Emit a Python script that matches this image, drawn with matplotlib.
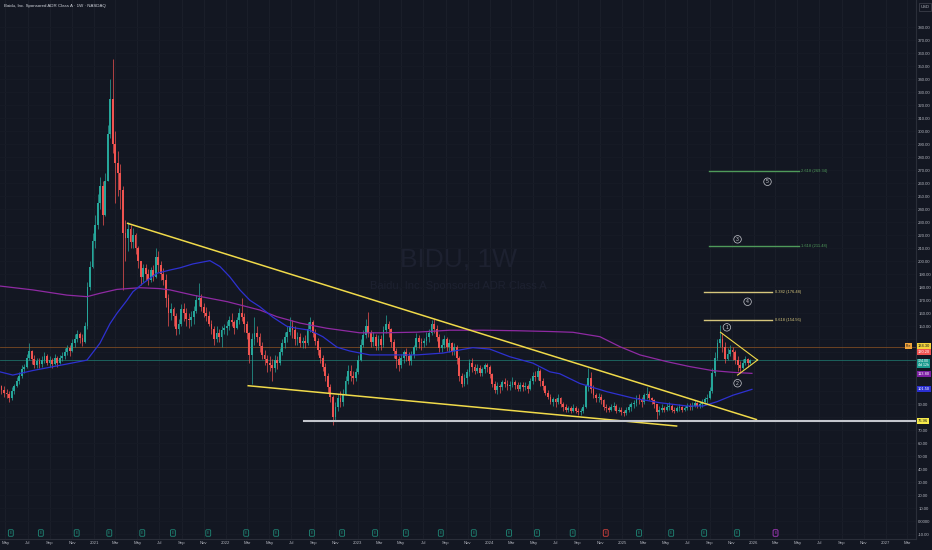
import numpy as np
import pandas as pd
import matplotlib
matplotlib.use("Agg")
import matplotlib.pyplot as plt
import matplotlib.dates as mdates
from matplotlib.transforms import blended_transform_factory
from datetime import datetime

# ------------------------------------------------------------------ data
title = "Baidu, Inc. Sponsored ADR Class A \u00b7 1W \u00b7 NASDAQ"
watermark1 = "BIDU, 1W"
watermark2 = "Baidu, Inc. Sponsored ADR Class A"

start_week = "2020-04-13"
first_open = 103.0

close_2020 = [104, 101, 99, 98, 95, 100, 104, 108, 112, 117, 119, 126, 131, 125, 120, 123,
              121, 124, 127, 122, 124, 121, 126, 122, 126, 127, 130, 133, 131,
              137, 140, 144, 141, 138, 150, 180, 196, 216]
high_2020 = [107, 105, 104, 102, 100, 103, 106, 111, 115, 120, 121, 129, 137, 132, 128, 126,
             126, 127, 130, 129, 127, 126, 129, 127, 128, 130, 133, 136, 136,
             140, 144, 147, 146, 144, 153, 184, 200, 222]
low_2020 = [100, 98, 96, 95, 92, 93, 98, 103, 106, 110, 114, 118, 124, 121, 118, 118,
            118, 119, 122, 120, 119, 118, 120, 119, 121, 123, 125, 128, 127,
            130, 134, 138, 137, 135, 137, 148, 178, 195]

close_2021 = [228, 245, 258, 236, 262, 298, 325, 290, 276, 268, 255, 222, 218,
              225, 215, 220, 210, 200, 188, 195, 190, 186, 193, 188, 203, 197,
              190, 186, 172, 160, 163, 158, 148, 152, 163, 160, 156, 155, 157,
              162, 170, 172, 165, 160, 158, 152, 148, 140, 145, 142, 147, 149]
high_2021 = [236, 252, 265, 262, 268, 305, 340, 356, 300, 285, 275, 258, 232,
             230, 228, 226, 222, 212, 200, 198, 198, 194, 196, 197, 210, 208,
             200, 195, 190, 175, 168, 165, 160, 156, 167, 168, 164, 160, 162,
             166, 174, 183, 175, 168, 165, 162, 155, 150, 150, 148, 150, 152]
low_2021 = [210, 225, 240, 228, 235, 262, 295, 283, 245, 250, 240, 178, 200,
            208, 210, 210, 206, 195, 182, 184, 186, 182, 184, 185, 187, 192,
            186, 182, 165, 150, 155, 150, 143, 144, 150, 154, 150, 149, 150,
            152, 160, 166, 162, 157, 154, 150, 144, 136, 138, 138, 134, 144]

close_2022 = [150, 155, 153, 149, 155, 160, 157, 152, 145, 128, 140, 145, 142,
              135, 128, 125, 122, 120, 118, 124, 122, 130, 137, 142, 146, 150,
              147, 140, 142, 137, 139, 137, 148, 153, 145, 139, 132, 126, 119,
              112, 103, 96, 80, 88, 95, 92, 98, 108, 116, 112, 110, 115]
high_2022 = [154, 158, 160, 155, 157, 164, 172, 160, 154, 146, 145, 157, 150,
             145, 138, 132, 128, 127, 125, 128, 127, 133, 140, 146, 150, 157,
             155, 150, 146, 145, 142, 143, 153, 157, 155, 148, 141, 134, 128,
             122, 114, 106, 97, 92, 98, 100, 102, 112, 120, 120, 116, 118]
low_2022 = [143, 147, 150, 144, 148, 152, 154, 146, 140, 122, 106, 136, 138,
            130, 125, 120, 115, 116, 108, 115, 117, 120, 128, 133, 138, 143,
            141, 136, 136, 134, 133, 133, 136, 146, 142, 136, 128, 122, 116,
            108, 99, 92, 74, 78, 85, 88, 89, 97, 106, 108, 106, 108]

close_2023 = [124, 136, 143, 150, 145, 138, 142, 135, 140, 136, 147, 152, 148,
              138, 131, 125, 120, 126, 130, 127, 123, 128, 134, 141, 138, 137,
              139, 142, 145, 152, 148, 142, 133, 136, 140, 134, 137, 131, 134,
              126, 112, 106, 110, 115, 122, 119, 116, 118, 114, 117, 120, 119]
high_2023 = [128, 140, 147, 156, 161, 147, 146, 144, 143, 143, 150, 159, 154,
             149, 140, 133, 127, 129, 132, 133, 130, 131, 136, 145, 143, 141,
             141, 146, 148, 155, 156, 151, 144, 140, 143, 142, 140, 138, 137,
             136, 127, 114, 113, 117, 125, 126, 121, 121, 120, 119, 122, 122]
low_2023 = [113, 123, 134, 141, 142, 134, 135, 132, 132, 132, 134, 145, 142,
            134, 126, 118, 116, 118, 122, 123, 120, 120, 126, 132, 133, 132,
            134, 136, 138, 143, 145, 139, 130, 130, 133, 131, 130, 128, 128,
            121, 108, 103, 104, 106, 112, 115, 113, 114, 112, 112, 114, 115]

close_2024 = [113, 106, 101, 104, 103, 107, 106, 104, 105, 107, 105, 102, 105,
              103, 104, 102, 108, 112, 111, 116, 108, 104, 99, 96, 92, 94,
              92, 95, 90, 88, 86, 87, 85, 87, 85, 84, 85, 88, 104, 110,
              102, 97, 95, 96, 93, 88, 87, 86, 88, 89, 85, 86, 84]
high_2024 = [120, 114, 108, 107, 106, 109, 110, 109, 108, 111, 109, 107, 107,
             107, 107, 106, 110, 115, 116, 119, 117, 110, 105, 101, 98, 96,
             95, 98, 96, 92, 90, 89, 89, 90, 89, 87, 87, 90, 106, 118,
             115, 105, 99, 99, 98, 94, 90, 89, 90, 92, 90, 88, 88]
low_2024 = [110, 103, 99, 98, 99, 101, 103, 101, 101, 103, 102, 100, 100,
            100, 101, 99, 101, 106, 108, 109, 104, 101, 97, 94, 90, 89,
            88, 90, 88, 85, 84, 84, 83, 84, 83, 82, 82, 83, 87, 100,
            99, 95, 92, 92, 90, 86, 84, 84, 85, 86, 83, 84, 82]

close_2025 = [83, 86, 88, 90, 91, 95, 94, 92, 97, 98, 95, 93, 90,
              84, 86, 87, 86, 88, 89, 86, 85, 87, 88, 86, 87, 89,
              88, 89, 91, 89, 90, 92, 94, 95, 100, 114, 126, 137, 140,
              134, 125, 129, 132, 130, 124, 120, 118, 122, 125, 122, 124]
high_2025 = [86, 88, 90, 92, 93, 97, 98, 96, 99, 103, 100, 96, 94,
             90, 89, 90, 89, 91, 92, 90, 88, 89, 90, 89, 89, 91,
             91, 92, 93, 92, 92, 94, 96, 98, 103, 118, 130, 140, 151,
             145, 138, 133, 136, 134, 132, 127, 123, 125, 127, 126, 125]
low_2025 = [81, 82, 84, 85, 87, 89, 90, 88, 90, 94, 93, 90, 87,
            79, 82, 84, 84, 85, 86, 84, 83, 84, 85, 84, 85, 86,
            86, 86, 88, 87, 87, 88, 90, 91, 94, 99, 112, 124, 134,
            130, 122, 124, 127, 124, 121, 116, 114, 117, 120, 119, 121]

# moving averages (decimal year, value)
blue_ma_t = [2020.288, 2020.386, 2020.538, 2020.795, 2020.947, 2021.045, 2021.121, 2021.174,
             2021.250, 2021.295, 2021.371, 2021.477, 2021.576, 2021.652, 2021.750, 2021.879,
             2021.955, 2022.030, 2022.106, 2022.182, 2022.258, 2022.356, 2022.462, 2022.538,
             2022.636, 2022.735, 2022.841, 2022.939, 2023.091, 2023.265, 2023.447, 2023.644,
             2023.773, 2023.871, 2024.000, 2024.152, 2024.326, 2024.455, 2024.530, 2024.682,
             2024.886, 2025.083, 2025.288, 2025.492, 2025.614, 2025.720, 2025.841, 2025.985]
blue_ma_v = [115, 112.5, 116, 121, 124, 137, 152, 160,
             170, 176.6, 183, 190.8, 193.3, 195, 198, 200.5,
             196, 188, 178, 170, 165, 157, 150, 148.5,
             147, 142, 134, 131, 128, 128, 128, 129.4,
             131.8, 133.6, 132.5, 126.6, 121.7, 115, 113.5, 106,
             99.7, 94.8, 91.2, 88.7, 88.7, 92, 97, 101.5]
purple_ma_t = [2020.288, 2020.538, 2020.795, 2020.947, 2021.045, 2021.174, 2021.348, 2021.500,
               2021.576, 2021.750, 2022.008, 2022.258, 2022.386, 2022.561, 2022.765, 2023.015,
               2023.189, 2023.447, 2023.697, 2023.947, 2024.205, 2024.455, 2024.629, 2024.833,
               2024.985, 2025.136, 2025.341, 2025.515, 2025.689, 2025.841, 2025.985]
purple_ma_v = [181, 178, 174, 172.8, 175.4, 178.4, 179.7, 179,
               178, 174, 169, 162.5, 157.4, 152.5, 148.5, 145,
               145, 145.5, 147, 147, 146.6, 146, 145.4, 142,
               134.3, 128, 122.8, 119, 115.9, 114.6, 113.8]

# drawings (decimal year, price)
trend_upper = [(2021.255, 229.2), (2026.019, 78.3)]
trend_lower = [(2022.169, 104.3), (2025.414, 73.3)]
support_level = 76.96
support_start = 2022.59
triangle_top = (2025.747, 145.4)
triangle_apex = (2026.028, 124.1)
triangle_bottom = (2025.876, 112.5)

fib_ratio = ["2.618", "1.618", "0.382", "0.618"]
fib_price = [269.34, 211.48, 176.48, 154.56]
fib_start = [2025.659, 2025.659, 2025.621, 2025.621]
fib_end = [2026.339, 2026.339, 2026.140, 2026.140]
fib_color = ["#4f9a5a", "#4f9a5a", "#d6c67c", "#d6c67c"]

wave_label = ["1", "2", "3", "4", "5"]
wave_t = [2025.795, 2025.876, 2025.876, 2025.952, 2026.103]
wave_v = [149.2, 106.2, 216.9, 168.9, 261.2]

earn_t = [2020.371, 2020.598, 2020.869, 2021.116, 2021.366, 2021.598, 2021.866, 2022.154,
          2022.381, 2022.652, 2022.881, 2023.131, 2023.364, 2023.629, 2023.879, 2024.146,
          2024.358, 2024.627, 2024.877, 2025.129, 2025.373, 2025.623, 2025.873, 2026.164]
earn_kind = ["g"] * 18 + ["r"] + ["g"] * 4 + ["f"]

post_price = 134.30
prev_price = 130.20
countdown = "4d 12h"

price_ticks = list(range(-10, 390, 10))

# ------------------------------------------------------------------ style
BG = "#131722"
GRID = "#1b1f2a"
UP = "#26a69a"
DN = "#ef5350"
BLUE = "#2e31d1"
PURPLE = "#8f2aa3"
YEL = "#f0da4a"
TXT = "#b2b5be"
FONT = ["Liberation Sans", "DejaVu Sans"]
plt.rcParams["font.family"] = FONT

def yr(t):
    y = int(np.floor(t))
    a = mdates.date2num(datetime(y, 1, 1))
    b = mdates.date2num(datetime(y + 1, 1, 1))
    return a + (t - y) * (b - a)

close = np.array(close_2020 + close_2021 + close_2022 + close_2023 + close_2024 + close_2025, float)
high = np.array(high_2020 + high_2021 + high_2022 + high_2023 + high_2024 + high_2025, float)
low = np.array(low_2020 + low_2021 + low_2022 + low_2023 + low_2024 + low_2025, float)
opn = np.concatenate([[first_open], close[:-1]])
high = np.maximum(high, np.maximum(opn, close))
low = np.minimum(low, np.minimum(opn, close))
dates = mdates.date2num(pd.date_range(start_week, periods=len(close), freq="W-MON").to_pydatetime())

fig = plt.figure(figsize=(9.32, 5.5), dpi=100, facecolor=BG)
AXW, AXH = 916, 539
ax = fig.add_axes([0, 11 / 550, AXW / 932, AXH / 550], facecolor=BG)

px_per_day = 132 / 365.25
x0 = yr(2021.0)
ax.set_xlim(x0 - 94 / px_per_day, x0 + (AXW - 94) / px_per_day)
ax.set_ylim(-13.6, 401)

# price-scale boxes: (value, text, face colour, text colour, fontsize, half-height in price units)
boxes = [
    (post_price + 0.8, f"{post_price:.2f}", "#f5d33b", "#131722", 2.9, 3.5),
    (prev_price, f"{prev_price:.2f}", "#ef5350", "#ffffff", 2.9, 3.5),
    (close[-1] - 2.6, f"{close[-1]:.2f}\n{countdown}", "#1a9b8e", "#ffffff", 2.6, 6.5),
    (purple_ma_v[-1] - 0.6, f"{purple_ma_v[-1]:.2f}", "#7b1fa2", "#ffffff", 2.9, 3.5),
    (blue_ma_v[-1], f"{blue_ma_v[-1]:.2f}", "#2a2fd0", "#ffffff", 2.9, 3.5),
    (support_level, f"{support_level:.2f}", "#f5e94a", "#131722", 2.9, 3.5),
]

# grid / ticks
tick_dates, tick_labels = [], []
y, m = 2020, 5
while (y, m) <= (2027, 3):
    tick_dates.append(mdates.date2num(datetime(y, m, 1)))
    tick_labels.append(str(y) if m == 1 else datetime(y, m, 1).strftime("%b"))
    m += 2
    if m > 12:
        m -= 12
        y += 1
ax.set_xticks(tick_dates)
ax.set_xticklabels(tick_labels)
for d in tick_dates:
    ax.axvline(d, color=GRID, lw=0.7, zorder=0)
for p in price_ticks:
    ax.axhline(p, color="#171b26", lw=0.6, zorder=0)
ax.yaxis.tick_right()
ax.set_yticks(price_ticks)

def tick_text(p):
    for b in boxes:
        if abs(p - b[0]) < b[5] + 2.0:
            return ""
    return "0.0000" if p == 0 else f"{p:.2f}"

ax.set_yticklabels([tick_text(p) for p in price_ticks])
ax.tick_params(axis="x", length=0, pad=1.6, labelsize=3.1, colors=TXT)
ax.tick_params(axis="y", length=0, pad=1.6, labelsize=3.1, colors=TXT)
for s in ["top", "left"]:
    ax.spines[s].set_visible(False)
for s in ["right", "bottom"]:
    ax.spines[s].set_color("#2a2e39")
    ax.spines[s].set_linewidth(0.8)

# watermark
ax.text(0.5, 1 - 259 / AXH, watermark1, transform=ax.transAxes, ha="center", va="center",
        fontsize=19, color="#1d2130", zorder=0)
ax.text(0.5, 1 - 286 / AXH, watermark2, transform=ax.transAxes, ha="center", va="center",
        fontsize=8, color="#1d2130", zorder=0)

# title
ax.text(4 / AXW, 1 - 6 / AXH, title, transform=ax.transAxes, ha="left", va="center",
        fontsize=3.2, color="#d1d4dc")

# horizontal price lines
ax.axhline(post_price, color="#7a4a22", lw=0.6, zorder=1)
ax.axhline(close[-1], color="#1d6d66", lw=0.6, zorder=1)

# candles
up = close >= opn
cols = np.where(up, UP, DN)
ax.vlines(dates, low, high, colors=cols, lw=0.5, zorder=3)
body_h = np.maximum(np.abs(close - opn), 0.6)
ax.bar(dates, body_h, bottom=np.minimum(opn, close), width=5.0, color=cols, linewidth=0, zorder=4)

# moving averages
ax.plot([yr(t) for t in purple_ma_t], purple_ma_v, color=PURPLE, lw=0.9, zorder=5)
ax.plot([yr(t) for t in blue_ma_t], blue_ma_v, color=BLUE, lw=0.9, zorder=5)

# trend lines
for tl in (trend_upper, trend_lower):
    ax.plot([yr(tl[0][0]), yr(tl[1][0])], [tl[0][1], tl[1][1]], color=YEL, lw=1.1, zorder=6)
ax.plot([yr(support_start), ax.get_xlim()[1]], [support_level, support_level],
        color="#c3c5cc", lw=1.5, zorder=6)
for v in (triangle_top, triangle_bottom):
    ax.plot([yr(v[0]), yr(triangle_apex[0])], [v[1], triangle_apex[1]], color=YEL, lw=0.8, zorder=6)

# fib levels
for r, p, a, b, c in zip(fib_ratio, fib_price, fib_start, fib_end, fib_color):
    ax.plot([yr(a), yr(b)], [p, p], color=c, lw=1.0, zorder=6)
    ax.text(yr(b) + 2.5 / px_per_day, p, f"{r} ({p:.2f})", color=c, fontsize=2.9,
            ha="left", va="center", zorder=6)

# wave labels
for lab, t, v in zip(wave_label, wave_t, wave_v):
    ax.text(yr(t), v, lab, color="#c9cbd1", fontsize=3.6, ha="center", va="center", zorder=7,
            bbox=dict(boxstyle="circle,pad=0.25", fc=BG, ec="#c9cbd1", lw=0.5))

# earnings markers
btrans = blended_transform_factory(ax.transData, ax.transAxes)
ecol = {"g": "#1f8a78", "r": "#e0443f", "f": "#b03cc8"}
for t, k in zip(earn_t, earn_kind):
    ax.text(yr(t), 6 / AXH, "E", transform=btrans, color=ecol[k], fontsize=2.6,
            ha="center", va="center", zorder=7,
            bbox=dict(boxstyle="round,pad=0.35,rounding_size=0.3", fc=BG, ec=ecol[k], lw=0.6))

# right-axis price labels
rt = blended_transform_factory(ax.transAxes, ax.transData)
lx = 1 + 1.8 / AXW
for v, txt, fc, tc, fs, hh in boxes:
    ax.text(lx, v, txt, transform=rt, ha="left", va="center", fontsize=fs, color=tc,
            clip_on=False, zorder=10, linespacing=1.0,
            bbox=dict(boxstyle="square,pad=0.22", fc=fc, ec="none"))
ax.text(906 / AXW, post_price + 0.8, "Pre", transform=rt, ha="left", va="center", fontsize=2.5,
        color="#131722", clip_on=False, zorder=10,
        bbox=dict(boxstyle="square,pad=0.25", fc="#f0a33a", ec="none"))

fig.text(925 / 932, 1 - 7 / 550, "USD", ha="center", va="center", fontsize=3, color=TXT,
         bbox=dict(boxstyle="square,pad=0.4", fc=BG, ec="#434651", lw=0.5))

fig.savefig("out.png", dpi=100, facecolor=BG)
